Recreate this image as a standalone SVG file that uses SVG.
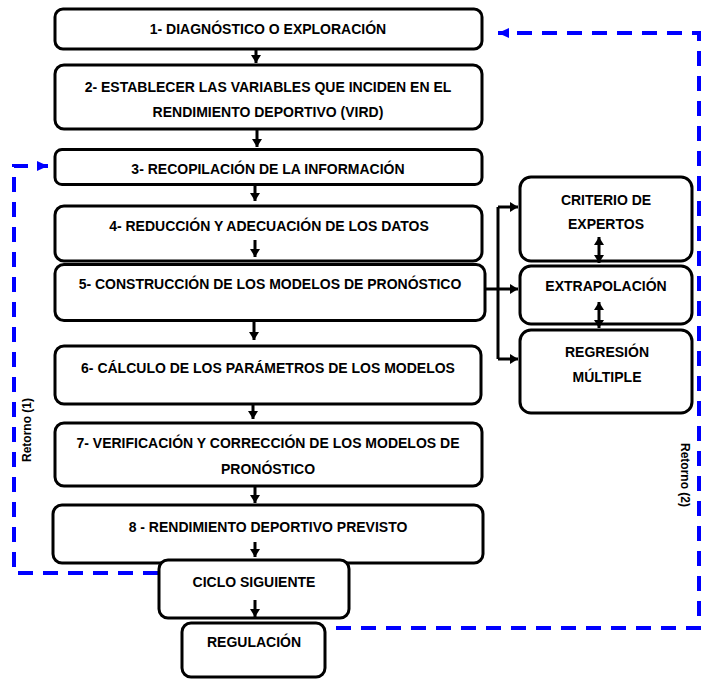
<svg xmlns="http://www.w3.org/2000/svg" width="707" height="680" viewBox="0 0 707 680">
<style>
.box{fill:#fff;stroke:#000;stroke-width:3}
.t{font-family:"Liberation Sans",Arial,sans-serif;font-weight:bold;font-size:14px;text-anchor:middle;fill:#000}
.lbl{font-family:"Liberation Sans",Arial,sans-serif;font-weight:bold;font-size:12px;text-anchor:middle;fill:#000}
.c{fill:none;stroke:#000;stroke-width:3}
.ret{fill:none;stroke:#0000ff;stroke-width:4;stroke-dasharray:15 10}
</style>
<defs>
<marker id="ah" markerUnits="userSpaceOnUse" markerWidth="12" markerHeight="10" refX="8" refY="5" orient="auto">
<path d="M0,0 L8,5 L0,10 Z" fill="#000"/>
</marker>
<marker id="ahs" markerUnits="userSpaceOnUse" markerWidth="12" markerHeight="10" refX="8" refY="5" orient="auto-start-reverse">
<path d="M0,0 L8,5 L0,10 Z" fill="#000"/>
</marker>
<marker id="bh" markerUnits="userSpaceOnUse" markerWidth="12" markerHeight="10" refX="11" refY="5" orient="auto">
<path d="M0,0 L11,5 L0,10 Z" fill="#0000ff"/>
</marker>
</defs>

<g id="connectors">
<path class="c" d="M256,49 V63" marker-end="url(#ah)"/>
<path class="c" d="M257,130 V147" marker-end="url(#ah)"/>
<path class="c" d="M255,185 V201" marker-end="url(#ah)"/>
<path class="c" d="M254,317 V340" marker-end="url(#ah)"/>
<path class="c" d="M253,405 V419" marker-end="url(#ah)"/>
<path class="c" d="M255,487 V503" marker-end="url(#ah)"/>
<path class="c" d="M486,289 H498"/>
<path class="c" d="M498,207 V359"/>
<path class="c" d="M498,207 H518" marker-end="url(#ah)"/>
<path class="c" d="M498,289 H518" marker-end="url(#ah)"/>
<path class="c" d="M498,359 H518" marker-end="url(#ah)"/>
<path class="ret" d="M158,573 H14 V166 H48" marker-end="url(#bh)"/>
<path class="ret" d="M336,628 H699 V33 H498" marker-end="url(#bh)"/>
</g>

<g id="n1"><rect class="box" x="55" y="9" width="427" height="40" rx="8"/><text class="t" x="268" y="34">1- DIAGNÓSTICO O EXPLORACIÓN</text></g>
<g id="n2"><rect class="box" x="55" y="65" width="427" height="64" rx="9"/><text class="t" x="268" y="92">2- ESTABLECER LAS VARIABLES QUE INCIDEN EN EL</text><text class="t" x="268" y="117">RENDIMIENTO DEPORTIVO (VIRD)</text></g>
<g id="n3"><rect class="box" x="55" y="149.5" width="427" height="35" rx="7"/><text class="t" x="268" y="174">3- RECOPILACIÓN DE LA INFORMACIÓN</text></g>
<g id="n4"><rect class="box" x="55" y="206" width="427" height="55" rx="9"/><text class="t" x="269" y="231">4- REDUCCIÓN Y ADECUACIÓN DE LOS DATOS</text><path class="c" d="M255,240 V257" marker-end="url(#ah)"/></g>
<g id="n5"><rect class="box" x="55" y="264.5" width="430" height="56" rx="9"/><text class="t" x="270" y="289">5- CONSTRUCCIÓN DE LOS MODELOS DE PRONÓSTICO</text></g>
<g id="n6"><rect class="box" x="55" y="346" width="426" height="58" rx="9"/><text class="t" x="268" y="373">6- CÁLCULO DE LOS PARÁMETROS DE LOS MODELOS</text></g>
<g id="n7"><rect class="box" x="55" y="423" width="427" height="63" rx="9"/><text class="t" x="268" y="448">7- VERIFICACIÓN Y CORRECCIÓN DE LOS MODELOS DE</text><text class="t" x="268" y="474">PRONÓSTICO</text></g>
<g id="n8"><rect class="box" x="53" y="505" width="430" height="58" rx="9"/><text class="t" x="268" y="532">8 - RENDIMIENTO DEPORTIVO PREVISTO</text><path class="c" d="M255,542 V557" marker-end="url(#ah)"/></g>
<g id="n9"><rect class="box" x="159" y="560" width="190" height="58" rx="9"/><text class="t" x="254" y="587">CICLO SIGUIENTE</text><path class="c" d="M255,600 V617" marker-end="url(#ah)"/></g>
<g id="n10"><rect class="box" x="182" y="623" width="143" height="54" rx="9"/><text class="t" x="254" y="647">REGULACIÓN</text></g>
<g id="r1"><rect class="box" x="520" y="177" width="172" height="84" rx="11"/><text class="t" x="606" y="205">CRITERIO DE</text><text class="t" x="606" y="229">EXPERTOS</text></g>
<g id="r2"><rect class="box" x="520" y="266" width="172" height="58" rx="11"/><text class="t" x="606" y="291">EXTRAPOLACIÓN</text></g>
<g id="r3"><rect class="box" x="520" y="330" width="172" height="83" rx="11"/><text class="t" x="607" y="357">REGRESIÓN</text><text class="t" x="607" y="382">MÚLTIPLE</text></g>
<g id="dbl">
<path class="c" d="M599,237 V263" marker-start="url(#ahs)" marker-end="url(#ah)"/>
<path class="c" d="M599,302 V328" marker-start="url(#ahs)" marker-end="url(#ah)"/>
</g>
<text class="lbl" transform="translate(31,430) rotate(-90)">Retorno (1)</text>
<text class="lbl" transform="translate(681,475) rotate(90)">Retorno (2)</text>
</svg>
